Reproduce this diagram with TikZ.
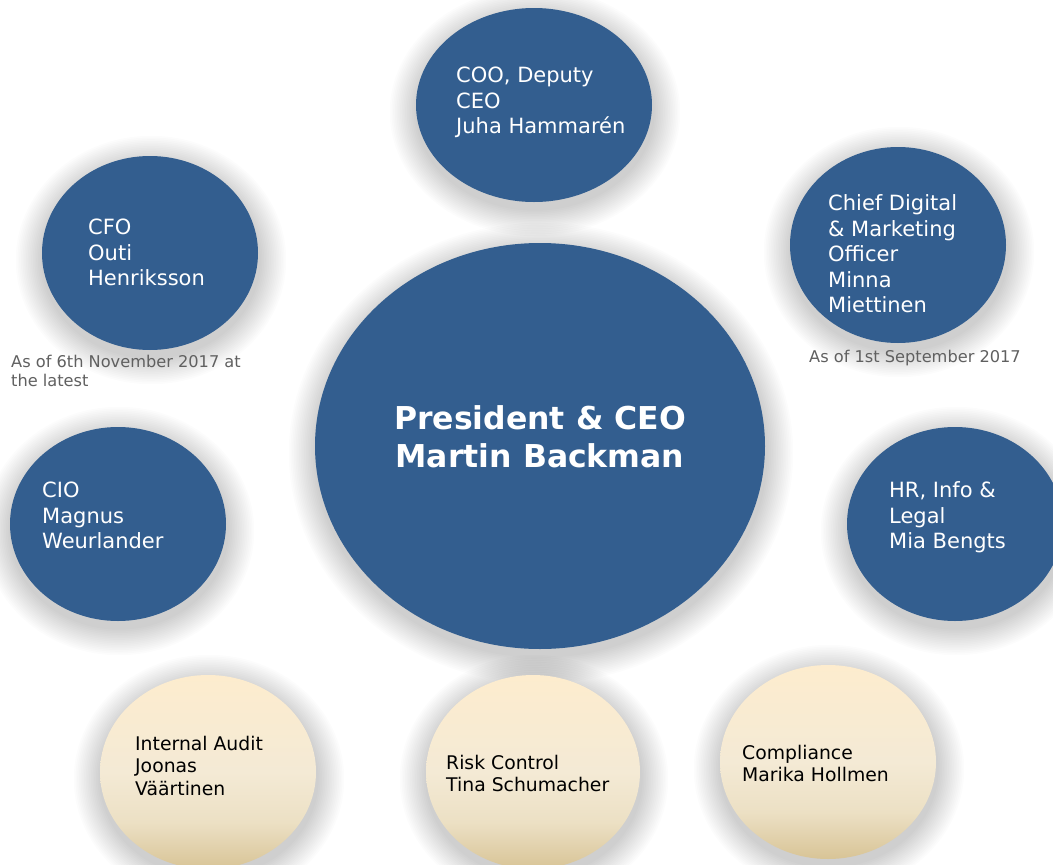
\documentclass[tikz,border=0pt]{standalone}
\usepackage{fontspec}
\setmainfont{DejaVu Sans}
\usetikzlibrary{shapes.geometric}
\definecolor{orgblue}{RGB}{51,94,143}
\definecolor{notegrey}{RGB}{96,96,96}
\definecolor{beigetop}{RGB}{253,236,206}
\definecolor{beigemid}{RGB}{244,234,213}
\definecolor{beigelow}{RGB}{236,224,196}
\definecolor{beigebot}{RGB}{216,196,150}
\pgfdeclareverticalshading{beigeshade}{100bp}{color(0bp)=(beigebot); color(25bp)=(beigebot); color(37bp)=(beigelow); color(50bp)=(beigemid); color(75bp)=(beigetop); color(100bp)=(beigetop)}
\newcommand{\softshade}[4]{%
  \foreach \i in {1,...,16}{%
    \fill[black,opacity=0.011] ({#1+1},{#2+7}) ellipse [x radius={#3+\i*1.7pt}, y radius={#4+\i*1.7pt}];
  }}
\begin{document}
\begin{tikzpicture}[x=1pt,y=-1pt,
  bluecirc/.style={ellipse,fill=orgblue,draw=none,inner sep=0pt},
  beigecirc/.style={ellipse,draw=none,inner sep=0pt,shading=beigeshade},
  wtext/.style={anchor=base west,align=left,inner sep=0pt,text=white,font=\fontsize{21}{25.5}\selectfont},
  btext/.style={anchor=base west,align=left,inner sep=0pt,text=black,font=\fontsize{18.8}{22.5}\selectfont},
  ntext/.style={anchor=base west,align=left,inner sep=0pt,text=notegrey,font=\fontsize{16.2}{19.5}\selectfont}]
\useasboundingbox (0,0) rectangle (1053,865);
\clip (0,0) rectangle (1053,865);
\fill[white] (0,0) rectangle (1053,865);
% shadows
\softshade{540}{446}{225pt}{203pt}
\softshade{534}{105}{118pt}{97pt}
\softshade{150}{253}{108pt}{97pt}
\softshade{898}{245}{108pt}{98pt}
\softshade{118}{524}{108pt}{97pt}
\softshade{955}{524}{108pt}{97pt}
\softshade{208}{772}{108pt}{97pt}
\softshade{533}{772}{107pt}{97pt}
\softshade{828}{762}{108pt}{97pt}
% circles
\node[bluecirc,minimum width=450pt,minimum height=406pt] (ceo) at (540,446) {};
\node[bluecirc,minimum width=236pt,minimum height=194pt] (coo) at (534,105) {};
\node[bluecirc,minimum width=216pt,minimum height=194pt] (cfo) at (150,253) {};
\node[bluecirc,minimum width=216pt,minimum height=196pt] (cdmo) at (898,245) {};
\node[bluecirc,minimum width=216pt,minimum height=194pt] (cio) at (118,524) {};
\node[bluecirc,minimum width=216pt,minimum height=194pt] (hr) at (955,524) {};
\node[beigecirc,minimum width=216pt,minimum height=194pt] (ia) at (208,772) {};
\node[beigecirc,minimum width=214pt,minimum height=194pt] (rc) at (533,772) {};
\node[beigecirc,minimum width=216pt,minimum height=194pt] (comp) at (828,762) {};
% texts (anchor = baseline of last line)
\node[anchor=base,align=center,inner sep=0pt,text=white,font=\fontsize{31.5}{38}\selectfont\bfseries] (ceoText) at (540,467.5) {President \& CEO\\Martin Backman};
\node[wtext] (cooText) at (456,133.5) {COO, Deputy\\CEO\\Juha Hammarén};
\node[wtext] (cfoText) at (88,285.5) {CFO\\Outi\\Henriksson};
\node[wtext] (cdmoText) at (828,312.5) {Chief Digital\\\& Marketing\\Officer\\Minna\\Miettinen};
\node[wtext] (cioText) at (42,548.5) {CIO\\Magnus\\Weurlander};
\node[wtext] (hrText) at (889,548.5) {HR, Info \&\\Legal\\Mia Bengts};
\node[btext] (iaText) at (135,795) {Internal Audit\\Joonas\\Väärtinen};
\node[btext] (rcText) at (446,791.5) {Risk Control\\Tina Schumacher};
\node[btext] (compText) at (742,781.5) {Compliance\\Marika Hollmen};
\node[ntext] (note1) at (11,386.5) {As of 6th November 2017 at\\the latest};
\node[ntext] (note2) at (809,362) {As of 1st September 2017};
\end{tikzpicture}
\end{document}
